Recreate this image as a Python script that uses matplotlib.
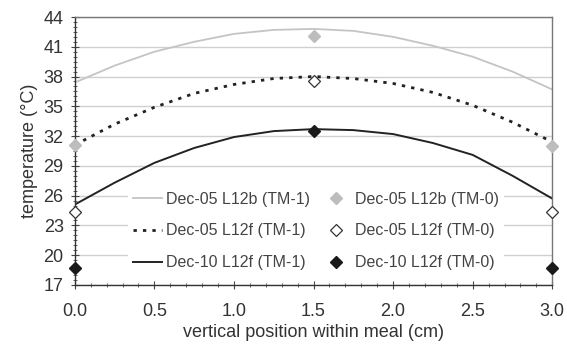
import numpy as np
import matplotlib.pyplot as plt
from matplotlib.ticker import MultipleLocator

plt.rcParams['font.family'] = ['Liberation Sans', 'DejaVu Sans']

# trend lines (TM-1), sampled every 0.25 cm
pos_fit = [0.0, 0.25, 0.5, 0.75, 1.0, 1.25, 1.5, 1.75, 2.0, 2.25, 2.5, 2.75, 3.0]
dec05_b_fit = [37.4, 39.1, 40.5, 41.5, 42.3, 42.7, 42.8, 42.6, 42.0, 41.1, 40.0, 38.5, 36.7]
dec05_f_fit = [31.1, 33.2, 34.9, 36.3, 37.2, 37.8, 38.0, 37.8, 37.3, 36.4, 35.1, 33.4, 31.4]
dec10_f_fit = [25.1, 27.3, 29.3, 30.8, 31.9, 32.5, 32.7, 32.6, 32.2, 31.3, 30.1, 28.0, 25.7]

# measured points (TM-0)
pos_meas = [0.0, 1.5, 3.0]
dec05_b_meas = [31.1, 42.1, 31.0]
dec05_f_meas = [24.3, 37.5, 24.3]
dec10_f_meas = [18.7, 32.5, 18.7]

y_ticks = [17, 20, 23, 26, 29, 32, 35, 38, 41, 44]

fig = plt.figure(figsize=(5.67, 3.47), dpi=100)
ax = fig.add_axes([0.132, 0.179, 0.842, 0.772])

l1, = ax.plot(pos_fit, dec05_b_fit, color='#c4c4c4', lw=1.3, label='Dec-05 L12b (TM-1)')
l2, = ax.plot(pos_fit, dec05_f_fit, color='#222222', lw=2.0, ls=(0, (1.2, 2.2)),
              label='Dec-05 L12f (TM-1)')
l3, = ax.plot(pos_fit, dec10_f_fit, color='#222222', lw=1.4, label='Dec-10 L12f (TM-1)')

m1, = ax.plot(pos_meas, dec05_b_meas, ls='none', marker='D', ms=6, color='#bdbdbd',
              clip_on=False, zorder=5, label='Dec-05 L12b (TM-0)')
m2, = ax.plot(pos_meas, dec05_f_meas, ls='none', marker='D', ms=6, mfc='white',
              mec='#333333', mew=0.9, clip_on=False, zorder=5, label='Dec-05 L12f (TM-0)')
m3, = ax.plot(pos_meas, dec10_f_meas, ls='none', marker='D', ms=6, color='#1a1a1a',
              clip_on=False, zorder=5, label='Dec-10 L12f (TM-0)')

ax.set_xlim(0, 3.0)
ax.set_ylim(17, 44)
ax.xaxis.set_major_locator(MultipleLocator(0.5))
ax.xaxis.set_minor_locator(MultipleLocator(0.1))
ax.set_yticks(y_ticks)
ax.set_yticks(np.arange(17, 44.01, 0.5), minor=True)
ax.xaxis.set_major_formatter(plt.FuncFormatter(lambda v, p: f'{v:.1f}'))

ax.grid(axis='y', which='major', color='#d0d0d0', lw=1.0)
ax.set_axisbelow(True)

for side in ['left', 'bottom']:
    ax.spines[side].set_color('#333333')
    ax.spines[side].set_linewidth(1.0)
for side in ['top', 'right']:
    ax.spines[side].set_color('#777777')
    ax.spines[side].set_linewidth(1.0)

ax.tick_params(which='both', direction='inout', color='#444444', labelcolor='#333333',
               labelsize=13)
ax.tick_params(which='major', length=6)
ax.tick_params(which='minor', length=3)
ax.tick_params(axis='x', pad=10)
ax.tick_params(axis='y', pad=5)

ax.set_xlabel('vertical position within meal (cm)', fontsize=13, color='#333333',
              labelpad=3)
ax.set_ylabel('temperature (°C)', fontsize=13, color='#333333', labelpad=4)

leg = ax.legend(handles=[l1, l2, l3, m1, m2, m3], ncol=2, loc='lower center',
                bbox_to_anchor=(0.505, 0.037), frameon=True, framealpha=1.0,
                edgecolor='none', fontsize=11.5, handlelength=1.8,
                columnspacing=0.7, handletextpad=0.3, labelspacing=1.05,
                borderpad=0.3, borderaxespad=0.0)
for t in leg.get_texts():
    t.set_color('#444444')

fig.savefig('out.png', dpi=100)
